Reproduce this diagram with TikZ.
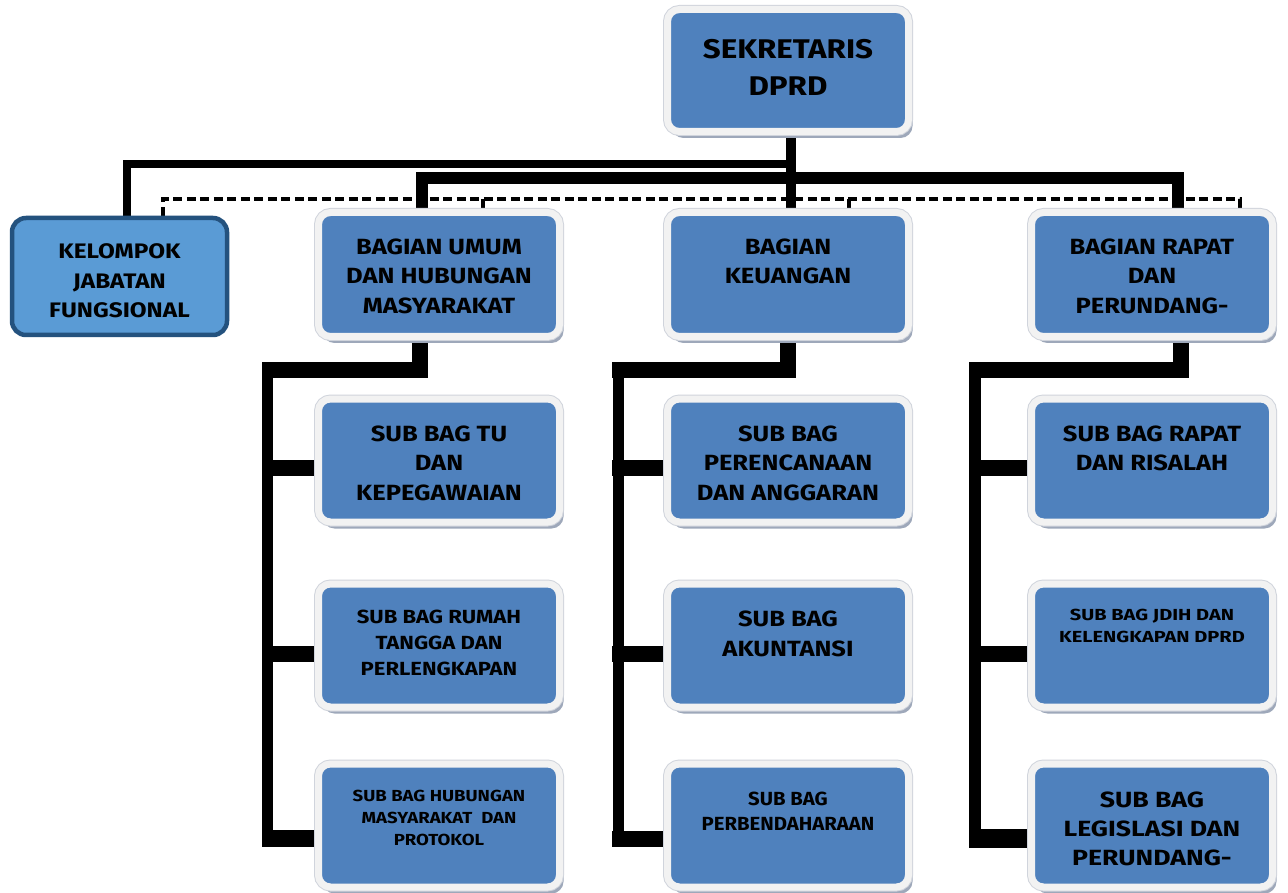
\documentclass[tikz,border=0pt]{standalone}
\usepackage{fontspec}
\setmainfont{Fira Sans}
\newfontfamily\fsa{Fira Sans}[FakeStretch=1.16]
\newfontfamily\fsb{Fira Sans}[FakeStretch=1.07]
\newfontfamily\fsc{Fira Sans}[FakeStretch=1.25]
\newfontfamily\fsd{Fira Sans}[FakeStretch=1.21]
\usetikzlibrary{shadows,backgrounds}
\definecolor{boxblue}{HTML}{4F81BD}
\definecolor{framecol}{HTML}{F2F2F2}
\definecolor{framedge}{HTML}{D0D4DC}
\definecolor{shadowcol}{HTML}{9EA8BA}
\definecolor{kelfill}{HTML}{5A9BD5}
\definecolor{kelborder}{HTML}{24527E}
\tikzset{
  box/.style={drop shadow={shadow xshift=4pt,shadow yshift=-6.5pt,fill=shadowcol,opacity=1},
    preaction={draw=framedge,line width=9},
    rounded corners=12, fill=boxblue, draw=framecol, line width=7,
    minimum width=241, minimum height=123, inner sep=0},
  kelbox/.style={rounded corners=14, fill=kelfill, draw=kelborder, line width=4.5,
    minimum width=215, minimum height=117, inner sep=0},
  txt/.style={align=center, inner sep=0, anchor=north, text=black},
  fA/.style={font=\fsa\bfseries\fontsize{27}{37}\selectfont},
  fB/.style={font=\fsa\bfseries\fontsize{22}{29.5}\selectfont},
  fC/.style={font=\fsa\bfseries\fontsize{19}{26}\selectfont},
  fD/.style={font=\fsa\bfseries\fontsize{16}{22}\selectfont},
  wire/.style={draw=black, line join=miter},
  dashline/.style={draw=black, line width=4.5, dash pattern=on 9 off 4.5},
}
\begin{document}
\begin{tikzpicture}[x=1pt,y=-1pt]
\useasboundingbox (0,0) rectangle (1288,893);
% boxes
\node[box] (sek) at (788,70.5) [minimum height=122] {};
\node[kelbox] (kel) at (119.5,276.5) {};
\node[box] (umum) at (439,274.5) [minimum height=124] {};
\node[box] (keu) at (788,274.5) [minimum height=124] {};
\node[box] (rapat) at (1152,274.5) [minimum height=124] {};
\node[box] (s11) at (439,460.5) {};
\node[box] (s12) at (439,645.5) {};
\node[box] (s13) at (439,825.5) {};
\node[box] (s21) at (788,460.5) {};
\node[box] (s22) at (788,645.5) {};
\node[box] (s23) at (788,825.5) {};
\node[box] (s31) at (1152,460.5) {};
\node[box] (s32) at (1152,645.5) {};
\node[box] (s33) at (1152,825.5) {};
% texts
\node[txt,fA] (tsek) at (788,38.7) {SEKRETARIS\\DPRD};
\node[txt,font=\fsa\bfseries\fontsize{21}{29.5}\selectfont] (tkel) at (119.5,243.8) {KELOMPOK\\JABATAN\\FUNGSIONAL};
\node[txt,fB] (tumum) at (439,238.4) {BAGIAN UMUM\\DAN HUBUNGAN\\MASYARAKAT};
\node[txt,fB] (tkeu) at (788,238.4) {BAGIAN\\KEUANGAN};
\node[txt,fB] (trapat) at (1152,238.4) {BAGIAN RAPAT\\DAN\\PERUNDANG-};
\node[txt,fB] (t11) at (439,425.4) {SUB BAG TU\\DAN\\KEPEGAWAIAN};
\node[txt,fC] (t12) at (439,609.5) {SUB BAG RUMAH\\TANGGA DAN\\PERLENGKAPAN};
\node[txt,fD] (t13) at (439,789.5) {SUB BAG HUBUNGAN\\MASYARAKAT\ \ DAN\\PROTOKOL};
\node[txt,fB] (t21) at (788,425.4) {SUB BAG\\PERENCANAAN\\DAN ANGGARAN};
\node[txt,font=\fsa\bfseries\fontsize{22}{30}\selectfont] (t22) at (788,610.4) {SUB BAG\\AKUNTANSI};
\node[txt,font=\fsb\bfseries\fontsize{19}{25}\selectfont] (t23) at (788,791.5) {SUB BAG\\PERBENDAHARAAN};
\node[txt,fB] (t31) at (1152,425.4) {SUB BAG RAPAT\\DAN RISALAH};
\node[txt,font=\fsc\bfseries\fontsize{16}{22}\selectfont] (t32) at (1152,608.5) {SUB BAG JDIH DAN\\KELENGKAPAN DPRD};
\node[txt,font=\fsd\bfseries\fontsize{22}{29}\selectfont] (t33) at (1152,791.4) {SUB BAG\\LEGISLASI DAN\\PERUNDANG-};
% connector coordinates
\coordinate (h1) at (791,164);
\coordinate (h2) at (791,178.5);
\coordinate (hd) at (800,199);
\coordinate (d1) at (483,199);
\coordinate (d2) at (849,199);
\begin{scope}[on background layer]
  \fill[white] (0,0) rectangle (1288,893);
  \draw[wire,line width=10] ([xshift=3]sek.south) -- ([xshift=3]keu.north);
  \draw[wire,line width=8] ([xshift=7.5]kel.north) |- (h1);
  \draw[wire,line width=12] ([xshift=-17]umum.north) |- (h2) -| ([xshift=26]rapat.north);
  \draw[dashline] ([xshift=43.5]kel.north) |- (hd) -| ([xshift=88]rapat.north);
  \draw[wire,line width=4.5] (d1) -- (d1 |- umum.north);
  \draw[wire,line width=4.5] (d2) -- (d2 |- keu.north);
  % column 1
  \coordinate (c1d) at (420,378);
  \coordinate (c1a) at (262,370);
  \coordinate (c1b) at (428,370);
  \coordinate (c1t) at (267.5,362);
  \coordinate (c1e) at (267.5,847);
  \draw[wire,line width=16] (c1d |- umum.south) -- (c1d);
  \draw[wire,line width=16] (c1a) -- (c1b);
  \draw[wire,line width=11] (c1t) -- (c1e);
  \coordinate (k11) at (262,468);
  \coordinate (k12) at (262,654);
  \coordinate (k13) at (262,838.5);
  \draw[wire,line width=16] (k11) -- (k11 -| s11.west);
  \draw[wire,line width=16] (k12) -- (k12 -| s12.west);
  \draw[wire,line width=17] (k13) -- (k13 -| s13.west);
  % column 2
  \coordinate (c2d) at (788,378);
  \coordinate (c2a) at (612,370);
  \coordinate (c2b) at (796,370);
  \coordinate (c2t) at (618,362);
  \coordinate (c2e) at (618,847);
  \draw[wire,line width=16] (c2d |- keu.south) -- (c2d);
  \draw[wire,line width=16] (c2a) -- (c2b);
  \draw[wire,line width=11] (c2t) -- (c2e);
  \coordinate (k21) at (612,468);
  \coordinate (k22) at (612,654);
  \coordinate (k23) at (612,839);
  \draw[wire,line width=16] (k21) -- (k21 -| s21.west);
  \draw[wire,line width=16] (k22) -- (k22 -| s22.west);
  \draw[wire,line width=16] (k23) -- (k23 -| s23.west);
  % column 3
  \coordinate (c3d) at (1180.5,378);
  \coordinate (c3a) at (969,370);
  \coordinate (c3b) at (1189,370);
  \coordinate (c3t) at (975,362);
  \coordinate (c3e) at (975,847);
  \draw[wire,line width=16] (c3d |- rapat.south) -- (c3d);
  \draw[wire,line width=16] (c3a) -- (c3b);
  \draw[wire,line width=12] (c3t) -- (c3e);
  \coordinate (k31) at (969,468);
  \coordinate (k32) at (969,654);
  \coordinate (k33) at (969,838);
  \draw[wire,line width=16] (k31) -- (k31 -| s31.west);
  \draw[wire,line width=16] (k32) -- (k32 -| s32.west);
  \draw[wire,line width=19] (k33) -- (k33 -| s33.west);
\end{scope}
\end{tikzpicture}
\end{document}
